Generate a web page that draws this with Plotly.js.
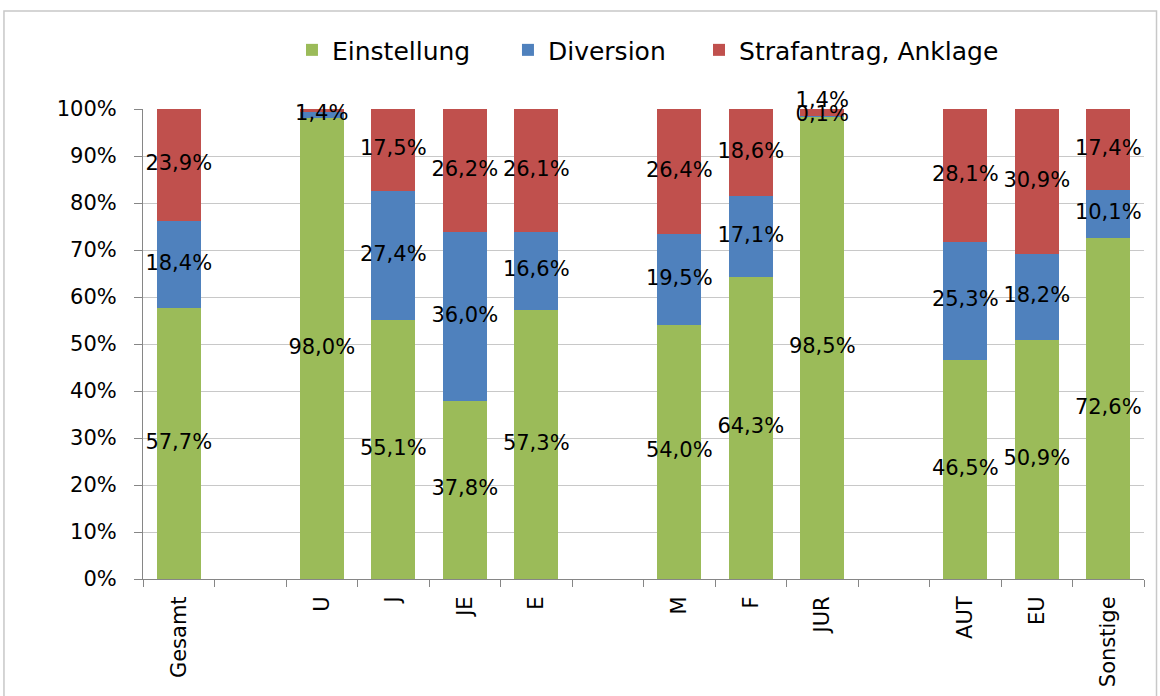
<!DOCTYPE html>
<html>
<head>
<meta charset="utf-8">
<script src="https://cdn.plot.ly/plotly-3.0.1.min.js"></script>
<style>
  html, body { margin: 0; padding: 0; background: #ffffff; }
  #chart { width: 1160px; height: 696px; }
</style>
</head>
<body>
<div id="chart"></div>
<script>
// ---- data ----
var categories = ['Gesamt', ' ', 'U', 'J', 'JE', 'E', '  ', 'M', 'F', 'JUR', '   ', 'AUT', 'EU', 'Sonstige'];
var einstellung = [57.7, null, 98.0, 55.1, 37.8, 57.3, null, 54.0, 64.3, 98.5, null, 46.5, 50.9, 72.6];
var diversion   = [18.4, null, 1.4, 27.4, 36.0, 16.6, null, 19.5, 17.1, 0.1, null, 25.3, 18.2, 10.1];
var strafantrag = [23.9, null, 0.6, 17.5, 26.2, 26.1, null, 26.4, 18.6, 1.4, null, 28.1, 30.9, 17.4];
var seriesNames = ['Einstellung', 'Diversion', 'Strafantrag, Anklage'];
var seriesColors = ['#9BBB59', '#4F81BD', '#C0504D'];
var hiddenLabels = [[], [], ['U']];          // labels not shown in the reference
var raisedLabels = [[], [], ['JUR']];        // labels nudged upward in the reference
var chartTitle = 'Erledigung der Verfahren – Analyse nach Tätergruppen';

var FONT = 'DejaVu Sans, Liberation Sans, sans-serif';
var series = [einstellung, diversion, strafantrag];
var legendIds = ['legend', 'legend2', 'legend3'];
var legendX = [0.2517, 0.4379, 0.6026];

function fmt(v) { return v.toFixed(1).replace('.', ',') + '%'; }

var traces = [];
// stacked bars
series.forEach(function (vals, i) {
  traces.push({
    type: 'bar',
    name: seriesNames[i],
    legend: legendIds[i],
    x: categories,
    y: vals,
    marker: { color: seriesColors[i], line: { width: 0 } },
    hoverinfo: 'x+y+name'
  });
});
// data labels placed at segment centres
var base = categories.map(function () { return 0; });
series.forEach(function (vals, i) {
  var xs = [], ys = [], ts = [], pos = [];
  vals.forEach(function (v, k) {
    if (v === null) return;
    var c = base[k] + v / 2;
    base[k] += v;
    if (hiddenLabels[i].indexOf(categories[k]) >= 0) return;
    xs.push(categories[k]);
    ys.push(c);
    ts.push(fmt(v));
    pos.push(raisedLabels[i].indexOf(categories[k]) >= 0 ? 'top center' : 'middle center');
  });
  traces.push({
    type: 'scatter',
    mode: 'text',
    x: xs, y: ys, text: ts,
    textposition: pos,
    textfont: { family: FONT, size: 21, color: '#000000' },
    showlegend: false,
    hoverinfo: 'skip',
    cliponaxis: false
  });
});

function legendCfg(x) {
  return {
    orientation: 'h',
    xref: 'container', x: x, xanchor: 'left',
    yref: 'container', y: 0.928, yanchor: 'middle',
    font: { family: FONT, size: 25, color: '#000000' },
    bgcolor: 'rgba(0,0,0,0)',
    borderwidth: 0,
    itemclick: false,
    itemdoubleclick: false
  };
}

var layout = {
  width: 1160,
  height: 696,
  paper_bgcolor: '#ffffff',
  plot_bgcolor: '#ffffff',
  font: { family: FONT, color: '#000000' },
  margin: { l: 143, r: 16, t: 109, b: 117, pad: 0 },
  barmode: 'stack',
  bargap: 0.385,
  showlegend: true,
  legend: legendCfg(legendX[0]),
  legend2: legendCfg(legendX[1]),
  legend3: legendCfg(legendX[2]),
  xaxis: {
    type: 'category',
    categoryorder: 'array',
    categoryarray: categories,
    range: [-0.5, categories.length - 0.5],
    autorange: false,
    tickson: 'boundaries',
    ticks: 'outside',
    ticklen: 7,
    tickcolor: '#868686',
    tickangle: -90,
    tickfont: { family: FONT, size: 21, color: '#000000' },
    ticklabelstandoff: 8,
    showline: true,
    linecolor: '#868686',
    linewidth: 1,
    showgrid: false,
    zeroline: false,
    fixedrange: true
  },
  yaxis: {
    range: [0, 100],
    autorange: false,
    dtick: 10,
    tick0: 0,
    ticksuffix: '%',
    ticks: 'outside',
    ticklen: 8,
    tickcolor: '#868686',
    tickfont: { family: FONT, size: 21, color: '#000000' },
    ticklabelstandoff: 13,
    showline: true,
    linecolor: '#868686',
    linewidth: 1,
    showgrid: true,
    gridcolor: '#c8c8c8',
    gridwidth: 1,
    zeroline: false,
    fixedrange: true
  },
  annotations: [{
    text: '<b>' + chartTitle + '</b>',
    xref: 'paper', yref: 'paper',
    x: 0.4296, y: 1.2638,
    xanchor: 'center', yanchor: 'middle',
    showarrow: false,
    font: { family: FONT, size: 24, color: '#000000' }
  }],
  shapes: [{
    type: 'rect',
    xref: 'paper', yref: 'paper',
    x0: -0.1389, x1: 1.0125,
    y0: -0.35, y1: 1.2085,
    line: { color: '#c8c8c8', width: 1.5 },
    fillcolor: 'rgba(0,0,0,0)',
    layer: 'below'
  }]
};

Plotly.newPlot('chart', traces, layout, { displayModeBar: false, responsive: false });
</script>
</body>
</html>
